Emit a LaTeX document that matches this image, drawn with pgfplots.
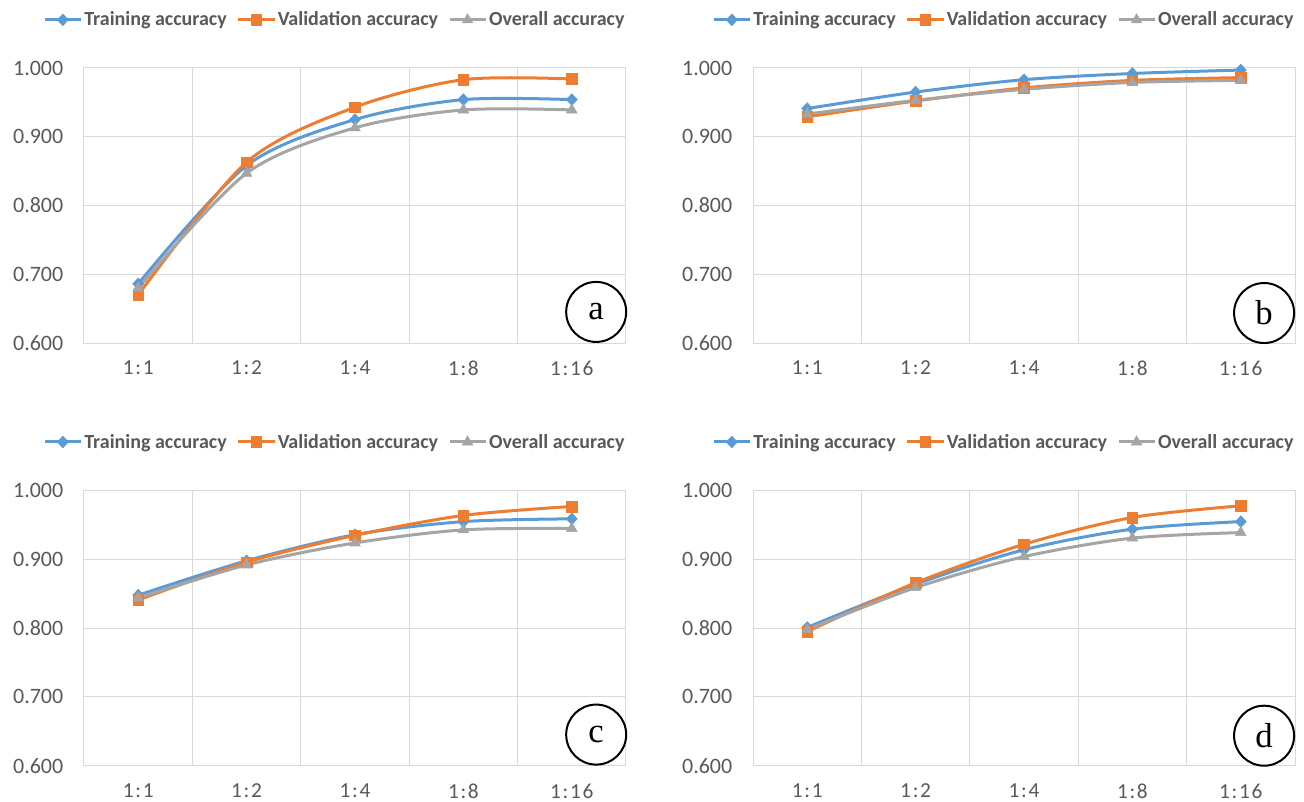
\documentclass[border=0pt]{standalone}
\usepackage{pgfplots}
\pgfplotsset{compat=1.18}
\usepackage{fontspec}
\setmainfont{Carlito}
\newfontfamily\xlfont[LetterSpace=8]{Carlito}
\newfontfamily\lblfont{Liberation Serif}
\definecolor{cT}{HTML}{5B9BD5}
\definecolor{cV}{HTML}{ED7D31}
\definecolor{cO}{HTML}{A5A5A5}
\definecolor{gridc}{HTML}{D9D9D9}
\definecolor{tickc}{HTML}{595959}
\pgfplotsset{
  panel/.style={
    scale only axis, width=406.5pt, height=206.25pt,
    anchor=north west, clip=false,
    xmin=-0.5, xmax=4.5, ymin=0.6, ymax=1.0,
    xtick={0,1,2,3,4}, xticklabels={1:1,1:2,1:4,1:8,1:16},
    ytick={0.6,0.7,0.8,0.9,1.0}, yticklabels={0.600,0.700,0.800,0.900,1.000},
    minor xtick={0.5,1.5,2.5,3.5},
    xminorgrids=true, ymajorgrids=true, xmajorgrids=false,
    grid style={draw=gridc, line width=0.75pt},
    minor grid style={draw=gridc, line width=0.75pt},
    axis line style={draw=gridc, line width=0.75pt},
    major tick length=0pt, minor tick length=0pt,
    yticklabel style={font=\fontsize{16.5}{18}\selectfont, text=tickc, xshift=-12pt},
    xticklabel style={font=\xlfont\fontsize{16}{18}\selectfont, text=tickc, yshift=-10pt},
    legend style={draw=none, fill=none, anchor=center,
      legend columns=-1, font=\bfseries\fontsize{15}{17}\selectfont,
      text=tickc, inner sep=0pt,
      /tikz/every even column/.append style={column sep=6pt},
      nodes={inner sep=1.5pt}},
    legend image code/.code={\draw[mark repeat=2,mark phase=2] plot coordinates {(0pt,0pt)(13.5pt,0pt)(27pt,0pt)};},
  },
  sT/.style={cT, line width=2.25pt, smooth, mark=diamond*, mark size=4.4pt, mark options={solid, fill=cT, draw=cT, line width=0.4pt, xscale=1.25}},
  sV/.style={cV, line width=2.25pt, smooth, mark=square*, mark size=4pt, mark options={solid, fill=cV, draw=cV, line width=0.4pt}},
  sO/.style={cO, line width=2.25pt, smooth, mark=triangle*, mark size=4.6pt, mark options={solid, fill=cO, draw=cO, line width=0.4pt}},
}
\newcommand{\panellabel}[3]{%
  \draw[black, line width=1.5pt] (rel axis cs:#1,#2) circle [radius=22.5pt];
  \node[font=\lblfont\fontsize{26}{26}\selectfont, inner sep=0pt] at (rel axis cs:#1,#2) {#3};}
\begin{document}
\begin{tikzpicture}
\useasboundingbox (0,0) rectangle (978pt,-601.5pt);
% panel a
\begin{axis}[panel, at={(63pt,-51pt)}, legend style={at={(0.463,1.175)}}]
\addplot[sT] coordinates {(0,0.686) (1,0.858) (2,0.925) (3,0.954) (4,0.954)};
\addplot[sV] coordinates {(0,0.670) (1,0.863) (2,0.943) (3,0.983) (4,0.984)};
\addplot[sO] coordinates {(0,0.680) (1,0.847) (2,0.913) (3,0.939) (4,0.939)};
\legend{Training accuracy, Validation accuracy, Overall accuracy}
\panellabel{0.945}{0.113}{a}
\end{axis}
% panel b
\begin{axis}[panel, at={(564.75pt,-51pt)}, legend style={at={(0.463,1.175)}}]
\addplot[sT] coordinates {(0,0.941) (1,0.965) (2,0.983) (3,0.992) (4,0.997)};
\addplot[sV] coordinates {(0,0.929) (1,0.952) (2,0.971) (3,0.982) (4,0.986)};
\addplot[sO] coordinates {(0,0.933) (1,0.953) (2,0.969) (3,0.979) (4,0.982)};
\legend{Training accuracy, Validation accuracy, Overall accuracy}
\panellabel{0.943}{0.109}{b}
\end{axis}
% panel c
\begin{axis}[panel, at={(63pt,-368pt)}, legend style={at={(0.463,1.177)}}]
\addplot[sT] coordinates {(0,0.848) (1,0.898) (2,0.936) (3,0.955) (4,0.959)};
\addplot[sV] coordinates {(0,0.841) (1,0.896) (2,0.935) (3,0.964) (4,0.977)};
\addplot[sO] coordinates {(0,0.844) (1,0.892) (2,0.924) (3,0.943) (4,0.945)};
\legend{Training accuracy, Validation accuracy, Overall accuracy}
\panellabel{0.945}{0.113}{c}
\end{axis}
% panel d
\begin{axis}[panel, at={(564.75pt,-368pt)}, legend style={at={(0.463,1.177)}}]
\addplot[sT] coordinates {(0,0.801) (1,0.864) (2,0.914) (3,0.944) (4,0.955)};
\addplot[sV] coordinates {(0,0.795) (1,0.866) (2,0.922) (3,0.961) (4,0.978)};
\addplot[sO] coordinates {(0,0.798) (1,0.859) (2,0.904) (3,0.931) (4,0.939)};
\legend{Training accuracy, Validation accuracy, Overall accuracy}
\panellabel{0.943}{0.109}{d}
\end{axis}
\end{tikzpicture}
\end{document}
